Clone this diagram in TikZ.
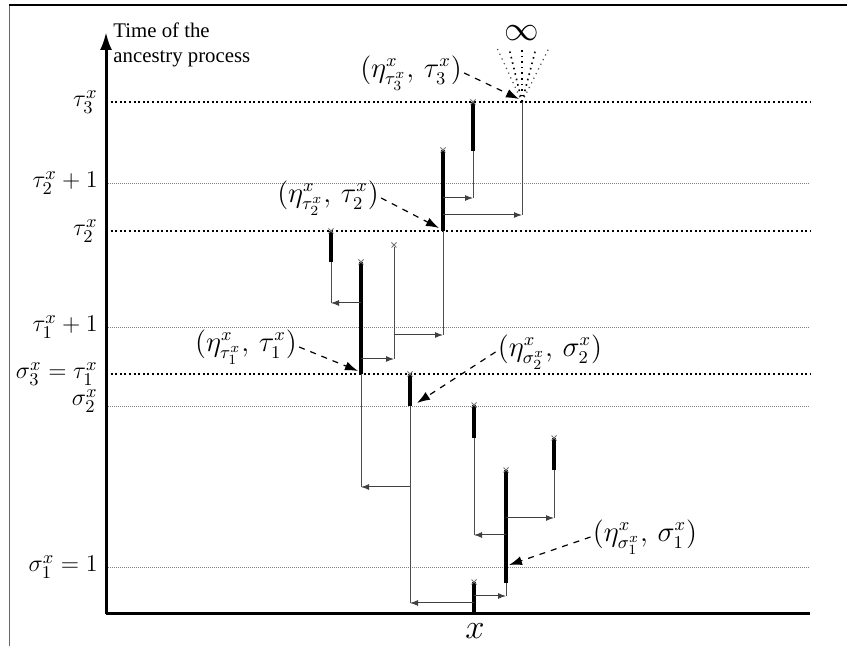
\documentclass[tikz,border=0pt]{standalone}
\usepackage{amsmath, amssymb}
\usepackage{fontspec}
\newfontfamily\timesfont{Liberation Serif}
\usetikzlibrary{positioning, arrows.meta}

\begin{document}
\begin{tikzpicture}[
    x=0.5pt, y=-0.5pt,
    level/.style={line width=1pt, dash pattern=on 1pt off 1.3pt},
    guide/.style={gray, line width=0.35pt, dash pattern=on 0.5pt off 0.5pt},
    axis/.style={line width=1.5pt},
    life/.style={line width=2pt},
    lineage/.style={black!70, line width=0.5pt},
    jump/.style={-{Latex[length=4pt, width=3pt]}, black!75, line width=0.5pt},
    pointer/.style={-{Latex[length=6.5pt, width=4.5pt]}, dashed, line width=0.6pt},
    tick/.style={font=\fontsize{12.6}{15}\selectfont, anchor=east, inner sep=1pt},
    tag/.style={font=\fontsize{13.4}{16}\selectfont, inner sep=1pt}
]
\useasboundingbox (0,0) rectangle (847,646);

% --- Frame ---
\draw[black!60, line width=0.5pt] (9,646) -- (9,5);
\draw[line width=1pt] (9,5) -- (847,5);

% --- Levels ---
\foreach \y in {102, 231, 374} \draw[level] (106,\y) -- (810,\y);
\foreach \y in {183, 327, 406, 567} \draw[guide] (106,\y) -- (810,\y);

\node[tick] (t3) at (100,102) {$\tau_3^x$};
\node[tick] (t2p) at (100,183) {$\tau_2^x + 1$};
\node[tick] (t2) at (100,231) {$\tau_2^x$};
\node[tick] (t1p) at (100,327) {$\tau_1^x + 1$};
\node[tick] (s3) at (100,374) {$\sigma_3^x = \tau_1^x$};
\node[tick] (s2) at (100,401) {$\sigma_2^x$};
\node[tick] (s1) at (100,567) {$\sigma_1^x = 1$};

% --- Axes ---
\draw[axis, -{Latex[length=9pt, width=6pt]}] (106,614) -- (106,32);
\draw[axis] (106,614) -- (810,614);
\node[anchor=north west, align=left, inner sep=0pt,
      font=\timesfont\fontsize{10.4}{12.5}\selectfont] (time) at (113,22)
    {Time of the\\ancestry process};
\node[font=\LARGE] (site) at (475,631) {$x$};

% --- Life times (thick) with birth marks ---
\foreach \x/\a/\b in {474/582/614, 506/470/583, 474/405/438, 554/438/470,
                      410/374/406, 361/262/374, 331/231/262, 394/245/245,
                      443/150/231, 473/102/151} {
    \draw[life] (\x,\a) -- (\x,\b);
    \draw[black!55, line width=0.4pt] (\x-2.5,\a-2.5) -- (\x+2.5,\a+2.5)
        (\x-2.5,\a+2.5) -- (\x+2.5,\a-2.5);
}

% --- Lineages (thin) ---
\foreach \x/\a/\b in {506/583/596, 410/406/603, 361/374/487, 474/438/535,
                      554/470/518, 331/262/303, 394/247/359, 443/231/335,
                      473/151/198, 522/102/215}
    \draw[lineage] (\x,\a) -- (\x,\b);

% --- Jumps ---
\foreach \u/\v/\y in {474/410/603, 474/506/596, 410/361/487, 506/474/535,
                      506/554/518, 361/331/303, 361/394/359, 394/443/335,
                      443/473/198, 443/522/215}
    \draw[jump] (\u,\y) -- (\v,\y);

% --- Escape to infinity ---
\coordinate (top) at (522,102);
\node[font=\LARGE] (inf) at (522,33) {$\infty$};
\foreach \x in {497, 549} \draw[black!70, line width=0.6pt, dotted] (top) -- (\x,48);
\foreach \x in {509, 522, 536} \draw[line width=0.8pt, dotted] (top) -- (\x,48);

% --- Pointers ---
\coordinate (p3) at (519,99);
\coordinate (p2) at (439,228);
\coordinate (p1) at (358,371);
\coordinate (q2) at (417,403);
\coordinate (q1) at (509,565);

\node[tag] (e3) at (411,73) {$(\eta^x_{\tau_3^x},\,\tau_3^x)$};
\node[tag] (e2) at (328,198) {$(\eta^x_{\tau_2^x},\,\tau_2^x)$};
\node[tag] (e1) at (246,347) {$(\eta^x_{\tau_1^x},\,\tau_1^x)$};
\node[tag] (f2) at (550,352) {$(\eta^x_{\sigma_2^x},\,\sigma_2^x)$};
\node[tag] (f1) at (645,537) {$(\eta^x_{\sigma_1^x},\,\sigma_1^x)$};

\draw[pointer] (e3.east) -- (p3);
\draw[pointer] (e2.east) -- (p2);
\draw[pointer] (e1.east) -- (p1);
\draw[pointer] (f2.west) -- (q2);
\draw[pointer] (f1.west) -- (q1);

\end{tikzpicture}
\end{document}
